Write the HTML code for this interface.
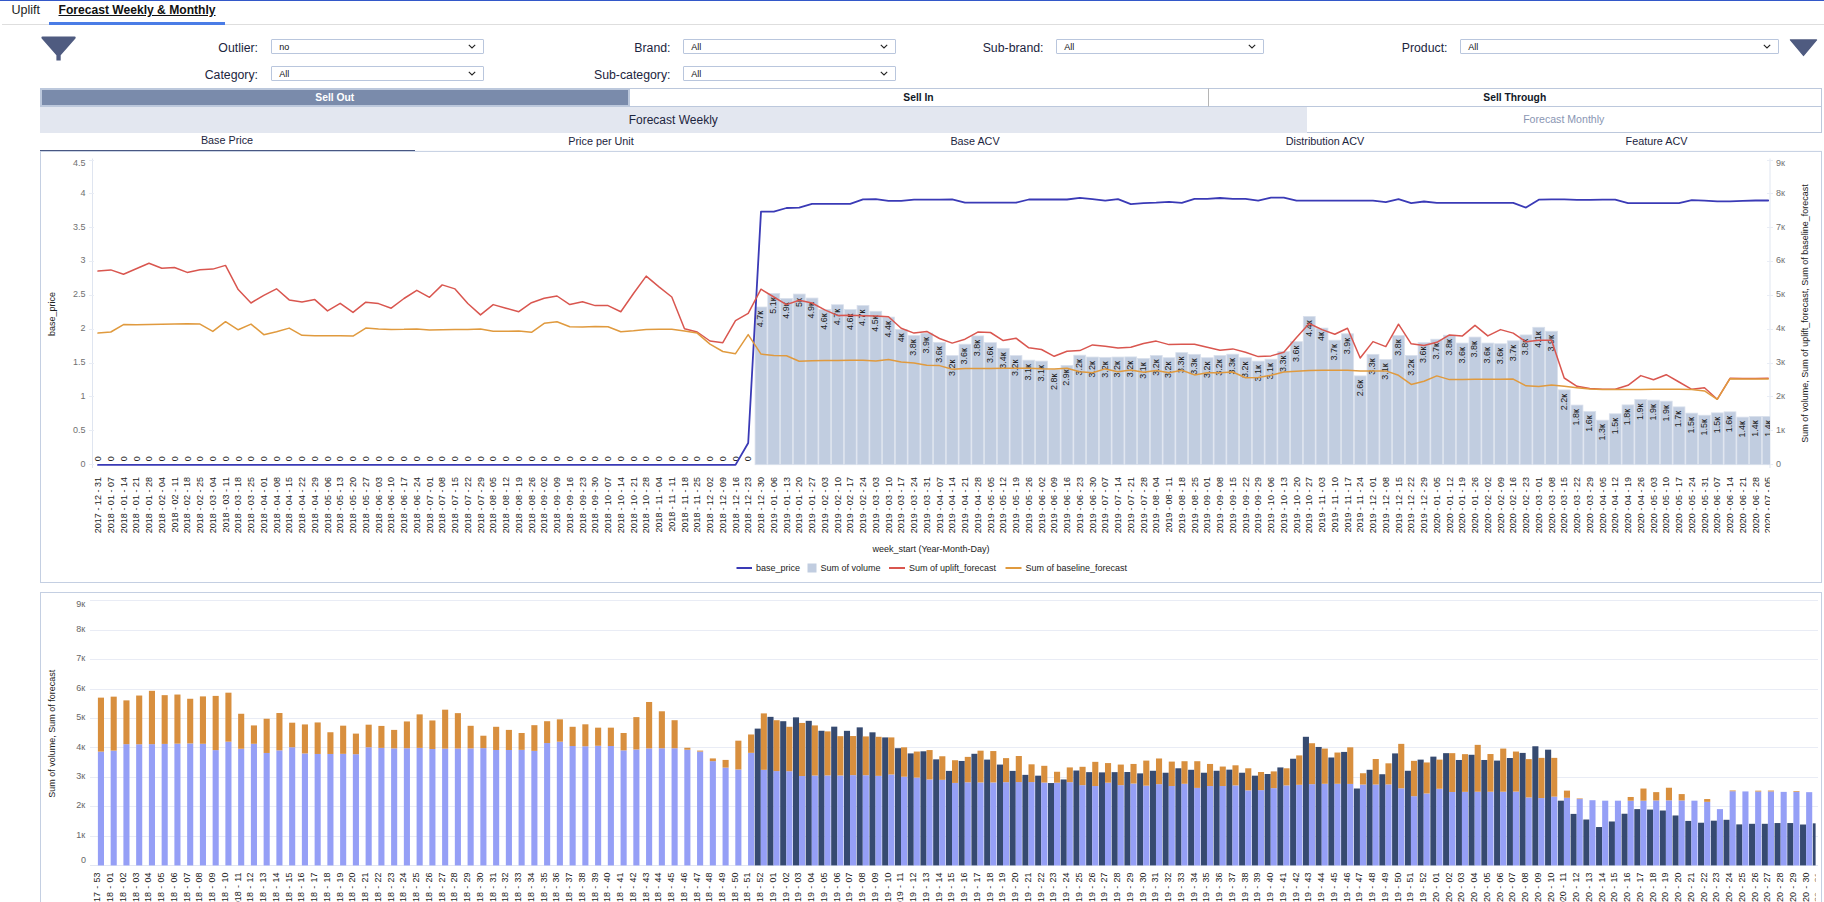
<!DOCTYPE html>
<html lang="en">
<head>
<meta charset="utf-8">
<title>Forecast Weekly &amp; Monthly</title>
<style>
html,body{margin:0;padding:0;background:#fff;}
body{width:1824px;height:902px;overflow:hidden;position:relative;font-family:"Liberation Sans",Arial,Helvetica,sans-serif;color:#1c2540;}
.abs{position:absolute;}
.topline{left:0;top:0;width:1824px;height:1px;background:#3358c9;}
.tabline{left:2px;top:24px;width:1822px;height:1px;background:#dedede;}
.tabsel{left:49px;top:22px;width:176px;height:3px;background:#4a7ce6;}
.tab{top:3px;height:15px;line-height:15px;white-space:nowrap;}
.tab1{left:11.5px;font-size:12.5px;color:#222;}
.tab2{left:58.5px;font-size:12.1px;font-weight:bold;text-decoration:underline;text-underline-offset:0.5px;color:#111;}
.flabel{font-size:12.3px;height:16px;line-height:16px;text-align:right;white-space:nowrap;width:200px;}
.sel{height:13.5px;border:1px solid #b9c6dd;border-radius:1px;background:#fff;box-sizing:content-box;}
.sel span{position:absolute;left:7.3px;top:0;font-size:9px;line-height:14px;color:#111;}
.sel svg{position:absolute;right:7px;top:4px;}
.seg{top:88px;height:19px;box-sizing:border-box;font-size:10.3px;font-weight:bold;text-align:center;line-height:18px;white-space:nowrap;}
.seg1{left:40px;width:589.5px;background:#7a8bab;border:2px solid #bcc8dc;color:#fff;line-height:15px;}
.seg2{left:629.5px;width:579px;border-top:1px solid #bcc8dc;border-bottom:1px solid #bcc8dc;border-right:1px solid #b5b5b5;color:#111827;}
.seg3{left:1208.5px;width:613.5px;border:1px solid #bcc8dc;border-left:none;color:#111827;}
.fw{left:40px;top:107px;width:1266.5px;height:26px;background:#e3e7f0;font-size:12px;text-align:center;line-height:26px;}
.fm{left:1306.5px;top:106px;width:515.5px;height:27px;box-sizing:border-box;border:1px solid #bcc8dc;border-left:none;font-size:10.6px;text-align:center;line-height:24.5px;color:#8a96b3;}
.sub{top:132px;height:17px;line-height:16px;font-size:10.8px;text-align:center;white-space:nowrap;}
.subline{left:40px;top:150px;width:1782px;height:1px;background:#c4cfe2;}
.subsel{left:40px;top:150px;width:374.5px;height:1.2px;background:#3a4a78;}
svg.charts{position:absolute;left:0;top:0;}
</style>
</head>
<body>
<div class="abs topline"></div>
<div class="abs tabline"></div>
<div class="abs tabsel"></div>
<div class="abs tab tab1">Uplift</div>
<div class="abs tab tab2">Forecast Weekly &amp; Monthly</div>

<svg class="abs" style="left:41px;top:36.1px" width="36" height="25" viewBox="0 0 36 25"><path d="M1.5 0.4H33.6Q34.7 0.4 34.7 1.5Q34.7 2.2 34.2 2.7L19.7 19.3V24.4H15.4V19.3L0.9 2.7Q0.4 2.2 0.4 1.5Q0.4 0.4 1.5 0.4Z" fill="#4f5b80"/></svg>
<svg class="abs" style="left:1789px;top:39px" width="29" height="18" viewBox="0 0 29 18"><path d="M1.5 0.9H27.5L14.5 16.4Z" fill="#4f5b80" stroke="#4f5b80" stroke-width="1.4" stroke-linejoin="round"/></svg>

<div class="abs flabel" style="left:58px;top:40px">Outlier:</div>
<div class="abs flabel" style="left:58px;top:67px">Category:</div>
<div class="abs flabel" style="left:470.5px;top:40px">Brand:</div>
<div class="abs flabel" style="left:470.5px;top:67px">Sub-category:</div>
<div class="abs flabel" style="left:843.5px;top:40px">Sub-brand:</div>
<div class="abs flabel" style="left:1247.5px;top:40px">Product:</div>

<div class="abs sel" style="left:271px;top:38.8px;width:210.5px"><span>no</span><svg width="8" height="5" viewBox="0 0 8 5"><path d="M0.8 0.8L4 4L7.2 0.8" fill="none" stroke="#222" stroke-width="1.1"/></svg></div>
<div class="abs sel" style="left:271px;top:65.8px;width:210.5px"><span>All</span><svg width="8" height="5" viewBox="0 0 8 5"><path d="M0.8 0.8L4 4L7.2 0.8" fill="none" stroke="#222" stroke-width="1.1"/></svg></div>
<div class="abs sel" style="left:683px;top:38.8px;width:210.5px"><span>All</span><svg width="8" height="5" viewBox="0 0 8 5"><path d="M0.8 0.8L4 4L7.2 0.8" fill="none" stroke="#222" stroke-width="1.1"/></svg></div>
<div class="abs sel" style="left:683px;top:65.8px;width:210.5px"><span>All</span><svg width="8" height="5" viewBox="0 0 8 5"><path d="M0.8 0.8L4 4L7.2 0.8" fill="none" stroke="#222" stroke-width="1.1"/></svg></div>
<div class="abs sel" style="left:1056px;top:38.8px;width:205.5px"><span>All</span><svg width="8" height="5" viewBox="0 0 8 5"><path d="M0.8 0.8L4 4L7.2 0.8" fill="none" stroke="#222" stroke-width="1.1"/></svg></div>
<div class="abs sel" style="left:1460px;top:38.8px;width:316.5px"><span>All</span><svg width="8" height="5" viewBox="0 0 8 5"><path d="M0.8 0.8L4 4L7.2 0.8" fill="none" stroke="#222" stroke-width="1.1"/></svg></div>

<div class="abs seg seg1">Sell Out</div>
<div class="abs seg seg2">Sell In</div>
<div class="abs seg seg3">Sell Through</div>
<div class="abs fw">Forecast Weekly</div>
<div class="abs fm">Forecast Monthly</div>

<div class="abs sub" style="left:40px;width:374px">Base Price</div>
<div class="abs sub" style="left:414px;width:374px;top:133px">Price per Unit</div>
<div class="abs sub" style="left:788px;width:374px;top:133px">Base ACV</div>
<div class="abs sub" style="left:1162px;width:326px;top:133px">Distribution ACV</div>
<div class="abs sub" style="left:1489.5px;width:334px;top:133.3px">Feature ACV</div>
<div class="abs subsel"></div>

<svg class="charts" width="1824" height="902" viewBox="0 0 1824 902" font-family="Liberation Sans, Arial, sans-serif">
<defs><clipPath id="c1"><rect x="92" y="150" width="1678.0" height="440"/></clipPath>
<clipPath id="c2"><rect x="90" y="595" width="1725.6" height="307"/></clipPath></defs>
<rect x="40.5" y="151.4" width="1781" height="431.1" fill="#fff" stroke="#c4cfe2" stroke-width="1"/>
<rect x="40.5" y="592.5" width="1781" height="320" fill="#fff" stroke="#c4cfe2" stroke-width="1"/>
<g stroke="#dfe5f0" stroke-width="1" fill="none">
<path d="M92.5 158.5V468"/>
<path d="M1770 158.5V468"/>
<path d="M89 464.5H94" stroke="#e9edf5"/>
<path d="M1767 464.5H1773" stroke="#e9edf5"/>
<path d="M89 430.5H94" stroke="#e9edf5"/>
<path d="M1767 430.5H1773" stroke="#e9edf5"/>
<path d="M89 396.5H94" stroke="#e9edf5"/>
<path d="M1767 396.5H1773" stroke="#e9edf5"/>
<path d="M89 363.5H94" stroke="#e9edf5"/>
<path d="M1767 363.5H1773" stroke="#e9edf5"/>
<path d="M89 329.5H94" stroke="#e9edf5"/>
<path d="M1767 329.5H1773" stroke="#e9edf5"/>
<path d="M89 295.5H94" stroke="#e9edf5"/>
<path d="M1767 295.5H1773" stroke="#e9edf5"/>
<path d="M89 261.5H94" stroke="#e9edf5"/>
<path d="M1767 261.5H1773" stroke="#e9edf5"/>
<path d="M89 227.5H94" stroke="#e9edf5"/>
<path d="M1767 227.5H1773" stroke="#e9edf5"/>
<path d="M89 193.5H94" stroke="#e9edf5"/>
<path d="M1767 193.5H1773" stroke="#e9edf5"/>
<path d="M89 160.5H94" stroke="#e9edf5"/>
<path d="M1767 160.5H1773" stroke="#e9edf5"/>
</g>
<g font-size="9" fill="#707070">
<text x="85.5" y="466.6" text-anchor="end">0</text>
<text x="1776" y="466.6">0</text>
<text x="85.5" y="432.5" text-anchor="end">0.5</text>
<text x="1776" y="432.5">1к</text>
<text x="85.5" y="398.7" text-anchor="end">1</text>
<text x="1776" y="398.7">2к</text>
<text x="85.5" y="364.8" text-anchor="end">1.5</text>
<text x="1776" y="364.8">3к</text>
<text x="85.5" y="331.0" text-anchor="end">2</text>
<text x="1776" y="331.0">4к</text>
<text x="85.5" y="297.2" text-anchor="end">2.5</text>
<text x="1776" y="297.2">5к</text>
<text x="85.5" y="263.4" text-anchor="end">3</text>
<text x="1776" y="263.4">6к</text>
<text x="85.5" y="229.6" text-anchor="end">3.5</text>
<text x="1776" y="229.6">7к</text>
<text x="85.5" y="195.7" text-anchor="end">4</text>
<text x="1776" y="195.7">8к</text>
<text x="85.5" y="166.0" text-anchor="end">4.5</text>
<text x="1776" y="166.0">9к</text>
</g>
<g font-size="9" fill="#222">
<text transform="translate(55,314) rotate(-90)" text-anchor="middle">base_price</text>
<text transform="translate(1807.8,313.5) rotate(-90)" text-anchor="middle">Sum of volume, Sum of uplift_forecast, Sum of baseline_forecast</text>
<text x="931" y="552" text-anchor="middle">week_start (Year-Month-Day)</text>
</g>
<g clip-path="url(#c1)">
<g fill="#c1cde0" stroke="#d9e0ec" stroke-width="0.8">
<rect x="755.08" y="307.00" width="11.85" height="157.70"/>
<rect x="767.83" y="293.48" width="11.85" height="171.22"/>
<rect x="780.58" y="298.48" width="11.85" height="166.22"/>
<rect x="793.33" y="294.06" width="11.85" height="170.64"/>
<rect x="806.08" y="298.06" width="11.85" height="166.64"/>
<rect x="818.83" y="309.47" width="11.85" height="155.23"/>
<rect x="831.58" y="304.76" width="11.85" height="159.94"/>
<rect x="844.33" y="309.55" width="11.85" height="155.15"/>
<rect x="857.08" y="305.56" width="11.85" height="159.14"/>
<rect x="869.83" y="311.26" width="11.85" height="153.44"/>
<rect x="882.58" y="317.11" width="11.85" height="147.59"/>
<rect x="895.33" y="329.52" width="11.85" height="135.18"/>
<rect x="908.08" y="335.51" width="11.85" height="129.19"/>
<rect x="920.83" y="333.09" width="11.85" height="131.61"/>
<rect x="933.58" y="342.36" width="11.85" height="122.34"/>
<rect x="946.33" y="355.62" width="11.85" height="109.08"/>
<rect x="959.08" y="344.21" width="11.85" height="120.49"/>
<rect x="971.83" y="335.94" width="11.85" height="128.76"/>
<rect x="984.58" y="342.64" width="11.85" height="122.06"/>
<rect x="997.33" y="348.35" width="11.85" height="116.35"/>
<rect x="1010.08" y="355.62" width="11.85" height="109.08"/>
<rect x="1022.83" y="360.19" width="11.85" height="104.51"/>
<rect x="1035.58" y="361.12" width="11.85" height="103.58"/>
<rect x="1048.33" y="369.60" width="11.85" height="95.10"/>
<rect x="1061.08" y="365.47" width="11.85" height="99.23"/>
<rect x="1073.83" y="355.20" width="11.85" height="109.50"/>
<rect x="1086.58" y="357.05" width="11.85" height="107.65"/>
<rect x="1099.33" y="357.34" width="11.85" height="107.36"/>
<rect x="1112.08" y="357.05" width="11.85" height="107.65"/>
<rect x="1124.83" y="356.91" width="11.85" height="107.79"/>
<rect x="1137.58" y="358.48" width="11.85" height="106.22"/>
<rect x="1150.33" y="355.48" width="11.85" height="109.22"/>
<rect x="1163.08" y="357.73" width="11.85" height="106.97"/>
<rect x="1175.83" y="352.63" width="11.85" height="112.07"/>
<rect x="1188.58" y="354.35" width="11.85" height="110.35"/>
<rect x="1201.33" y="357.73" width="11.85" height="106.97"/>
<rect x="1214.08" y="355.48" width="11.85" height="109.22"/>
<rect x="1226.83" y="354.20" width="11.85" height="110.50"/>
<rect x="1239.58" y="357.73" width="11.85" height="106.97"/>
<rect x="1252.33" y="361.12" width="11.85" height="103.58"/>
<rect x="1265.08" y="359.19" width="11.85" height="105.51"/>
<rect x="1277.83" y="351.63" width="11.85" height="113.07"/>
<rect x="1290.58" y="341.65" width="11.85" height="123.05"/>
<rect x="1303.33" y="316.40" width="11.85" height="148.30"/>
<rect x="1316.08" y="328.10" width="11.85" height="136.60"/>
<rect x="1328.83" y="340.22" width="11.85" height="124.48"/>
<rect x="1341.58" y="333.80" width="11.85" height="130.90"/>
<rect x="1354.33" y="375.88" width="11.85" height="88.82"/>
<rect x="1367.08" y="354.35" width="11.85" height="110.35"/>
<rect x="1379.83" y="359.48" width="11.85" height="105.22"/>
<rect x="1392.58" y="335.51" width="11.85" height="129.19"/>
<rect x="1405.33" y="355.48" width="11.85" height="109.22"/>
<rect x="1418.08" y="342.64" width="11.85" height="122.06"/>
<rect x="1430.83" y="339.22" width="11.85" height="125.48"/>
<rect x="1443.58" y="335.23" width="11.85" height="129.47"/>
<rect x="1456.33" y="343.07" width="11.85" height="121.63"/>
<rect x="1469.08" y="337.08" width="11.85" height="127.62"/>
<rect x="1481.83" y="343.07" width="11.85" height="121.63"/>
<rect x="1494.58" y="343.79" width="11.85" height="120.91"/>
<rect x="1507.33" y="340.82" width="11.85" height="123.88"/>
<rect x="1520.08" y="334.94" width="11.85" height="129.76"/>
<rect x="1532.83" y="327.30" width="11.85" height="137.40"/>
<rect x="1545.58" y="331.23" width="11.85" height="133.47"/>
<rect x="1558.33" y="389.88" width="11.85" height="74.82"/>
<rect x="1571.08" y="405.08" width="11.85" height="59.62"/>
<rect x="1583.83" y="411.54" width="11.85" height="53.16"/>
<rect x="1596.58" y="420.18" width="11.85" height="44.52"/>
<rect x="1609.33" y="413.80" width="11.85" height="50.90"/>
<rect x="1622.08" y="404.90" width="11.85" height="59.80"/>
<rect x="1634.83" y="399.58" width="11.85" height="65.12"/>
<rect x="1647.58" y="400.11" width="11.85" height="64.59"/>
<rect x="1660.33" y="401.17" width="11.85" height="63.53"/>
<rect x="1673.08" y="406.89" width="11.85" height="57.81"/>
<rect x="1685.83" y="413.14" width="11.85" height="51.56"/>
<rect x="1698.58" y="415.23" width="11.85" height="49.47"/>
<rect x="1711.33" y="412.87" width="11.85" height="51.83"/>
<rect x="1724.08" y="411.85" width="11.85" height="52.85"/>
<rect x="1736.83" y="417.12" width="11.85" height="47.58"/>
<rect x="1749.58" y="416.46" width="11.85" height="48.24"/>
<rect x="1762.33" y="416.46" width="11.85" height="48.24"/>
</g>
<g font-size="9" fill="#222">
<text transform="translate(101.2,461.2) rotate(-90)">0</text>
<text transform="translate(114.0,461.2) rotate(-90)">0</text>
<text transform="translate(126.7,461.2) rotate(-90)">0</text>
<text transform="translate(139.5,461.2) rotate(-90)">0</text>
<text transform="translate(152.2,461.2) rotate(-90)">0</text>
<text transform="translate(165.0,461.2) rotate(-90)">0</text>
<text transform="translate(177.7,461.2) rotate(-90)">0</text>
<text transform="translate(190.5,461.2) rotate(-90)">0</text>
<text transform="translate(203.2,461.2) rotate(-90)">0</text>
<text transform="translate(216.0,461.2) rotate(-90)">0</text>
<text transform="translate(228.7,461.2) rotate(-90)">0</text>
<text transform="translate(241.5,461.2) rotate(-90)">0</text>
<text transform="translate(254.2,461.2) rotate(-90)">0</text>
<text transform="translate(266.9,461.2) rotate(-90)">0</text>
<text transform="translate(279.7,461.2) rotate(-90)">0</text>
<text transform="translate(292.4,461.2) rotate(-90)">0</text>
<text transform="translate(305.2,461.2) rotate(-90)">0</text>
<text transform="translate(317.9,461.2) rotate(-90)">0</text>
<text transform="translate(330.7,461.2) rotate(-90)">0</text>
<text transform="translate(343.4,461.2) rotate(-90)">0</text>
<text transform="translate(356.2,461.2) rotate(-90)">0</text>
<text transform="translate(368.9,461.2) rotate(-90)">0</text>
<text transform="translate(381.7,461.2) rotate(-90)">0</text>
<text transform="translate(394.4,461.2) rotate(-90)">0</text>
<text transform="translate(407.2,461.2) rotate(-90)">0</text>
<text transform="translate(419.9,461.2) rotate(-90)">0</text>
<text transform="translate(432.7,461.2) rotate(-90)">0</text>
<text transform="translate(445.4,461.2) rotate(-90)">0</text>
<text transform="translate(458.2,461.2) rotate(-90)">0</text>
<text transform="translate(470.9,461.2) rotate(-90)">0</text>
<text transform="translate(483.7,461.2) rotate(-90)">0</text>
<text transform="translate(496.4,461.2) rotate(-90)">0</text>
<text transform="translate(509.2,461.2) rotate(-90)">0</text>
<text transform="translate(521.9,461.2) rotate(-90)">0</text>
<text transform="translate(534.7,461.2) rotate(-90)">0</text>
<text transform="translate(547.4,461.2) rotate(-90)">0</text>
<text transform="translate(560.2,461.2) rotate(-90)">0</text>
<text transform="translate(572.9,461.2) rotate(-90)">0</text>
<text transform="translate(585.7,461.2) rotate(-90)">0</text>
<text transform="translate(598.4,461.2) rotate(-90)">0</text>
<text transform="translate(611.2,461.2) rotate(-90)">0</text>
<text transform="translate(623.9,461.2) rotate(-90)">0</text>
<text transform="translate(636.7,461.2) rotate(-90)">0</text>
<text transform="translate(649.4,461.2) rotate(-90)">0</text>
<text transform="translate(662.2,461.2) rotate(-90)">0</text>
<text transform="translate(674.9,461.2) rotate(-90)">0</text>
<text transform="translate(687.7,461.2) rotate(-90)">0</text>
<text transform="translate(700.4,461.2) rotate(-90)">0</text>
<text transform="translate(713.2,461.2) rotate(-90)">0</text>
<text transform="translate(725.9,461.2) rotate(-90)">0</text>
<text transform="translate(738.7,461.2) rotate(-90)">0</text>
<text transform="translate(751.4,461.2) rotate(-90)">0</text>
<text transform="translate(763.3,310.9) rotate(-90)" text-anchor="end">4.7к</text>
<text transform="translate(776.0,297.4) rotate(-90)" text-anchor="end">5.1к</text>
<text transform="translate(788.8,302.4) rotate(-90)" text-anchor="end">4.9к</text>
<text transform="translate(801.5,298.0) rotate(-90)" text-anchor="end">5к</text>
<text transform="translate(814.3,302.0) rotate(-90)" text-anchor="end">4.9к</text>
<text transform="translate(827.0,313.4) rotate(-90)" text-anchor="end">4.6к</text>
<text transform="translate(839.8,308.7) rotate(-90)" text-anchor="end">4.7к</text>
<text transform="translate(852.5,313.5) rotate(-90)" text-anchor="end">4.6к</text>
<text transform="translate(865.3,309.5) rotate(-90)" text-anchor="end">4.7к</text>
<text transform="translate(878.0,315.2) rotate(-90)" text-anchor="end">4.5к</text>
<text transform="translate(890.8,321.0) rotate(-90)" text-anchor="end">4.4к</text>
<text transform="translate(903.5,333.4) rotate(-90)" text-anchor="end">4к</text>
<text transform="translate(916.3,339.4) rotate(-90)" text-anchor="end">3.8к</text>
<text transform="translate(929.0,337.0) rotate(-90)" text-anchor="end">3.9к</text>
<text transform="translate(941.8,346.3) rotate(-90)" text-anchor="end">3.6к</text>
<text transform="translate(954.5,359.5) rotate(-90)" text-anchor="end">3.2к</text>
<text transform="translate(967.3,348.1) rotate(-90)" text-anchor="end">3.6к</text>
<text transform="translate(980.0,339.8) rotate(-90)" text-anchor="end">3.8к</text>
<text transform="translate(992.8,346.5) rotate(-90)" text-anchor="end">3.6к</text>
<text transform="translate(1005.5,352.2) rotate(-90)" text-anchor="end">3.4к</text>
<text transform="translate(1018.3,359.5) rotate(-90)" text-anchor="end">3.2к</text>
<text transform="translate(1031.0,364.1) rotate(-90)" text-anchor="end">3.1к</text>
<text transform="translate(1043.8,365.0) rotate(-90)" text-anchor="end">3.1к</text>
<text transform="translate(1056.5,373.5) rotate(-90)" text-anchor="end">2.8к</text>
<text transform="translate(1069.3,369.4) rotate(-90)" text-anchor="end">2.9к</text>
<text transform="translate(1082.0,359.1) rotate(-90)" text-anchor="end">3.2к</text>
<text transform="translate(1094.8,361.0) rotate(-90)" text-anchor="end">3.2к</text>
<text transform="translate(1107.5,361.2) rotate(-90)" text-anchor="end">3.2к</text>
<text transform="translate(1120.3,361.0) rotate(-90)" text-anchor="end">3.2к</text>
<text transform="translate(1133.0,360.8) rotate(-90)" text-anchor="end">3.2к</text>
<text transform="translate(1145.8,362.4) rotate(-90)" text-anchor="end">3.1к</text>
<text transform="translate(1158.5,359.4) rotate(-90)" text-anchor="end">3.2к</text>
<text transform="translate(1171.3,361.6) rotate(-90)" text-anchor="end">3.2к</text>
<text transform="translate(1184.0,356.5) rotate(-90)" text-anchor="end">3.3к</text>
<text transform="translate(1196.8,358.3) rotate(-90)" text-anchor="end">3.3к</text>
<text transform="translate(1209.5,361.6) rotate(-90)" text-anchor="end">3.2к</text>
<text transform="translate(1222.3,359.4) rotate(-90)" text-anchor="end">3.2к</text>
<text transform="translate(1235.0,358.1) rotate(-90)" text-anchor="end">3.3к</text>
<text transform="translate(1247.8,361.6) rotate(-90)" text-anchor="end">3.2к</text>
<text transform="translate(1260.5,365.0) rotate(-90)" text-anchor="end">3.1к</text>
<text transform="translate(1273.3,363.1) rotate(-90)" text-anchor="end">3.1к</text>
<text transform="translate(1286.0,355.5) rotate(-90)" text-anchor="end">3.3к</text>
<text transform="translate(1298.8,345.5) rotate(-90)" text-anchor="end">3.6к</text>
<text transform="translate(1311.5,320.3) rotate(-90)" text-anchor="end">4.4к</text>
<text transform="translate(1324.3,332.0) rotate(-90)" text-anchor="end">4к</text>
<text transform="translate(1337.0,344.1) rotate(-90)" text-anchor="end">3.7к</text>
<text transform="translate(1349.8,337.7) rotate(-90)" text-anchor="end">3.9к</text>
<text transform="translate(1362.5,379.8) rotate(-90)" text-anchor="end">2.6к</text>
<text transform="translate(1375.3,358.3) rotate(-90)" text-anchor="end">3.3к</text>
<text transform="translate(1388.0,363.4) rotate(-90)" text-anchor="end">3.1к</text>
<text transform="translate(1400.8,339.4) rotate(-90)" text-anchor="end">3.8к</text>
<text transform="translate(1413.5,359.4) rotate(-90)" text-anchor="end">3.2к</text>
<text transform="translate(1426.3,346.5) rotate(-90)" text-anchor="end">3.6к</text>
<text transform="translate(1439.0,343.1) rotate(-90)" text-anchor="end">3.7к</text>
<text transform="translate(1451.8,339.1) rotate(-90)" text-anchor="end">3.8к</text>
<text transform="translate(1464.5,347.0) rotate(-90)" text-anchor="end">3.6к</text>
<text transform="translate(1477.3,341.0) rotate(-90)" text-anchor="end">3.8к</text>
<text transform="translate(1490.0,347.0) rotate(-90)" text-anchor="end">3.6к</text>
<text transform="translate(1502.8,347.7) rotate(-90)" text-anchor="end">3.6к</text>
<text transform="translate(1515.5,344.7) rotate(-90)" text-anchor="end">3.7к</text>
<text transform="translate(1528.3,338.8) rotate(-90)" text-anchor="end">3.8к</text>
<text transform="translate(1541.0,331.2) rotate(-90)" text-anchor="end">4.1к</text>
<text transform="translate(1553.8,335.1) rotate(-90)" text-anchor="end">3.9к</text>
<text transform="translate(1566.5,393.8) rotate(-90)" text-anchor="end">2.2к</text>
<text transform="translate(1579.3,409.0) rotate(-90)" text-anchor="end">1.8к</text>
<text transform="translate(1592.0,415.4) rotate(-90)" text-anchor="end">1.6к</text>
<text transform="translate(1604.8,424.1) rotate(-90)" text-anchor="end">1.3к</text>
<text transform="translate(1617.5,417.7) rotate(-90)" text-anchor="end">1.5к</text>
<text transform="translate(1630.3,408.8) rotate(-90)" text-anchor="end">1.8к</text>
<text transform="translate(1643.0,403.5) rotate(-90)" text-anchor="end">1.9к</text>
<text transform="translate(1655.8,404.0) rotate(-90)" text-anchor="end">1.9к</text>
<text transform="translate(1668.5,405.1) rotate(-90)" text-anchor="end">1.9к</text>
<text transform="translate(1681.3,410.8) rotate(-90)" text-anchor="end">1.7к</text>
<text transform="translate(1694.0,417.0) rotate(-90)" text-anchor="end">1.5к</text>
<text transform="translate(1706.8,419.1) rotate(-90)" text-anchor="end">1.5к</text>
<text transform="translate(1719.5,416.8) rotate(-90)" text-anchor="end">1.5к</text>
<text transform="translate(1732.3,415.7) rotate(-90)" text-anchor="end">1.6к</text>
<text transform="translate(1745.0,421.0) rotate(-90)" text-anchor="end">1.4к</text>
<text transform="translate(1757.8,420.4) rotate(-90)" text-anchor="end">1.4к</text>
<text transform="translate(1770.5,420.4) rotate(-90)" text-anchor="end">1.4к</text>
</g>
<g fill="none" stroke-width="1.5" stroke-linejoin="round" stroke-linecap="round">
<path d="M98.0 464.9L110.8 464.9L123.5 464.9L136.2 464.9L149.0 464.9L161.8 464.9L174.5 464.9L187.2 464.9L200.0 464.9L212.8 464.9L225.5 464.9L238.2 464.9L251.0 464.9L263.8 464.9L276.5 464.9L289.2 464.9L302.0 464.9L314.8 464.9L327.5 464.9L340.2 464.9L353.0 464.9L365.8 464.9L378.5 464.9L391.2 464.9L404.0 464.9L416.8 464.9L429.5 464.9L442.2 464.9L455.0 464.9L467.8 464.9L480.5 464.9L493.2 464.9L506.0 464.9L518.8 464.9L531.5 464.9L544.2 464.9L557.0 464.9L569.8 464.9L582.5 464.9L595.2 464.9L608.0 464.9L620.8 464.9L633.5 464.9L646.2 464.9L659.0 464.9L671.8 464.9L684.5 464.9L697.2 464.9L710.0 464.9L722.8 464.9L735.5 464.9L748.2 443.0L761.0 211.6L773.8 211.6L786.5 208.0L799.2 207.6L812.0 203.9L824.8 203.9L837.5 203.9L850.2 203.9L863.0 199.4L875.8 199.2L888.5 200.9L901.2 200.9L914.0 199.7L926.8 199.7L939.5 199.7L952.2 199.4L965.0 202.7L977.8 202.7L990.5 202.7L1003.2 202.7L1016.0 202.7L1028.8 199.5L1041.5 199.5L1054.2 199.5L1067.0 199.5L1079.8 197.8L1092.5 199.2L1105.2 200.7L1118.0 199.2L1130.8 204.1L1143.5 203.1L1156.2 202.7L1169.0 201.9L1181.8 202.9L1194.5 198.8L1207.2 198.8L1220.0 198.0L1232.8 198.8L1245.5 198.8L1258.2 200.7L1271.0 197.6L1283.8 197.6L1296.5 200.7L1309.2 200.7L1322.0 200.7L1334.8 200.7L1347.5 200.7L1360.2 200.7L1373.0 200.7L1385.8 202.1L1398.5 199.2L1411.2 203.1L1424.0 201.5L1436.8 202.9L1449.5 202.9L1462.2 202.9L1475.0 202.9L1487.8 202.9L1500.5 202.9L1513.2 202.9L1526.0 207.6L1538.8 199.7L1551.5 199.4L1564.2 199.4L1577.0 199.9L1589.8 199.9L1602.5 199.7L1615.2 199.7L1628.0 203.1L1640.8 203.1L1653.5 203.1L1666.2 203.1L1679.0 203.1L1691.8 200.1L1704.5 200.7L1717.2 201.3L1730.0 201.3L1742.8 200.9L1755.5 200.5L1768.2 200.5" stroke="#3a3ab6" stroke-width="1.8"/>
<path d="M98.0 271.1L110.8 269.9L123.5 274.2L136.2 268.7L149.0 263.2L161.8 268.2L174.5 267.5L187.2 272.4L200.0 269.7L212.8 269.1L225.5 265.4L238.2 289.6L251.0 303.0L263.8 295.3L276.5 288.8L289.2 299.9L302.0 301.9L314.8 299.6L327.5 310.9L340.2 303.3L353.0 312.4L365.8 302.2L378.5 303.6L391.2 308.2L404.0 298.5L416.8 290.3L429.5 297.3L442.2 284.9L455.0 288.9L467.8 303.5L480.5 314.9L493.2 304.6L506.0 308.2L518.8 311.7L531.5 302.7L544.2 298.2L557.0 296.0L569.8 304.6L582.5 301.8L595.2 305.6L608.0 305.6L620.8 311.7L633.5 293.5L646.2 276.1L659.0 286.8L671.8 297.0L684.5 328.7L697.2 332.0L710.0 341.0L722.8 342.7L735.5 320.6L748.2 313.4L761.0 289.2L773.8 297.0L786.5 304.6L799.2 300.2L812.0 303.0L824.8 309.9L837.5 315.4L850.2 315.2L863.0 315.7L875.8 316.1L888.5 316.8L901.2 328.2L914.0 333.1L926.8 331.4L939.5 338.5L952.2 343.1L965.0 339.2L977.8 332.1L990.5 332.5L1003.2 340.6L1016.0 338.2L1028.8 347.8L1041.5 349.5L1054.2 356.3L1067.0 351.3L1079.8 350.6L1092.5 344.9L1105.2 346.3L1118.0 348.0L1130.8 347.3L1143.5 343.5L1156.2 341.1L1169.0 344.6L1181.8 344.2L1194.5 344.2L1207.2 347.3L1220.0 350.3L1232.8 348.9L1245.5 352.3L1258.2 356.6L1271.0 355.9L1283.8 352.3L1296.5 337.5L1309.2 323.5L1322.0 329.6L1334.8 334.2L1347.5 328.2L1360.2 358.0L1373.0 341.6L1385.8 346.6L1398.5 324.2L1411.2 343.8L1424.0 345.6L1436.8 342.3L1449.5 334.9L1462.2 336.1L1475.0 325.4L1487.8 335.9L1500.5 329.6L1513.2 333.1L1526.0 341.8L1538.8 340.3L1551.5 340.3L1564.2 378.0L1577.0 386.3L1589.8 388.6L1602.5 389.3L1615.2 389.3L1628.0 385.3L1640.8 375.6L1653.5 379.7L1666.2 374.7L1679.0 382.0L1691.8 389.3L1704.5 387.7L1717.2 399.3L1730.0 378.3L1742.8 378.4L1755.5 378.4L1768.2 378.3" stroke="#d9564f"/>
<path d="M98.0 333.1L110.8 332.0L123.5 324.6L136.2 324.7L149.0 324.6L161.8 324.3L174.5 324.0L187.2 323.7L200.0 324.1L212.8 331.4L225.5 321.7L238.2 329.8L251.0 324.1L263.8 334.7L276.5 331.7L289.2 328.1L302.0 335.3L314.8 335.8L327.5 335.8L340.2 335.7L353.0 336.1L365.8 328.1L378.5 328.9L391.2 329.4L404.0 329.3L416.8 328.9L429.5 330.1L442.2 329.7L455.0 329.6L467.8 329.4L480.5 329.1L493.2 331.3L506.0 331.3L518.8 331.1L531.5 332.3L544.2 323.3L557.0 321.7L569.8 326.7L582.5 327.0L595.2 326.4L608.0 326.7L620.8 331.7L633.5 330.7L646.2 329.4L659.0 329.3L671.8 329.3L684.5 331.0L697.2 333.1L710.0 344.1L722.8 351.5L735.5 353.7L748.2 334.6L761.0 354.1L773.8 355.5L786.5 355.7L799.2 361.2L812.0 360.7L824.8 360.5L837.5 360.6L850.2 360.2L863.0 360.3L875.8 361.0L888.5 359.5L901.2 362.0L914.0 363.0L926.8 365.2L939.5 365.6L952.2 369.2L965.0 368.4L977.8 368.6L990.5 368.6L1003.2 368.3L1016.0 368.2L1028.8 368.2L1041.5 368.7L1054.2 368.9L1067.0 368.3L1079.8 371.7L1092.5 372.7L1105.2 368.9L1118.0 371.7L1130.8 369.9L1143.5 372.3L1156.2 370.6L1169.0 372.7L1181.8 370.2L1194.5 374.9L1207.2 372.7L1220.0 372.7L1232.8 372.0L1245.5 377.7L1258.2 377.4L1271.0 375.2L1283.8 372.0L1296.5 371.3L1309.2 370.6L1322.0 370.2L1334.8 370.2L1347.5 370.3L1360.2 371.0L1373.0 371.0L1385.8 370.9L1398.5 375.3L1411.2 384.4L1424.0 381.3L1436.8 375.9L1449.5 379.6L1462.2 379.4L1475.0 379.3L1487.8 379.3L1500.5 379.3L1513.2 379.1L1526.0 385.8L1538.8 386.6L1551.5 384.9L1564.2 386.3L1577.0 387.7L1589.8 389.0L1602.5 389.6L1615.2 389.6L1628.0 389.6L1640.8 389.6L1653.5 389.3L1666.2 389.2L1679.0 389.3L1691.8 389.6L1704.5 390.9L1717.2 399.3L1730.0 378.7L1742.8 378.9L1755.5 379.1L1768.2 378.9" stroke="#e09a3e"/>
</g>
<g font-size="9" fill="#222">
<text transform="translate(101.1,477.1) rotate(-90)" text-anchor="end">2017 - 12 - 31</text>
<text transform="translate(113.8,477.1) rotate(-90)" text-anchor="end">2018 - 01 - 07</text>
<text transform="translate(126.6,477.1) rotate(-90)" text-anchor="end">2018 - 01 - 14</text>
<text transform="translate(139.3,477.1) rotate(-90)" text-anchor="end">2018 - 01 - 21</text>
<text transform="translate(152.1,477.1) rotate(-90)" text-anchor="end">2018 - 01 - 28</text>
<text transform="translate(164.8,477.1) rotate(-90)" text-anchor="end">2018 - 02 - 04</text>
<text transform="translate(177.6,477.1) rotate(-90)" text-anchor="end">2018 - 02 - 11</text>
<text transform="translate(190.3,477.1) rotate(-90)" text-anchor="end">2018 - 02 - 18</text>
<text transform="translate(203.1,477.1) rotate(-90)" text-anchor="end">2018 - 02 - 25</text>
<text transform="translate(215.8,477.1) rotate(-90)" text-anchor="end">2018 - 03 - 04</text>
<text transform="translate(228.6,477.1) rotate(-90)" text-anchor="end">2018 - 03 - 11</text>
<text transform="translate(241.3,477.1) rotate(-90)" text-anchor="end">2018 - 03 - 18</text>
<text transform="translate(254.1,477.1) rotate(-90)" text-anchor="end">2018 - 03 - 25</text>
<text transform="translate(266.9,477.1) rotate(-90)" text-anchor="end">2018 - 04 - 01</text>
<text transform="translate(279.6,477.1) rotate(-90)" text-anchor="end">2018 - 04 - 08</text>
<text transform="translate(292.4,477.1) rotate(-90)" text-anchor="end">2018 - 04 - 15</text>
<text transform="translate(305.1,477.1) rotate(-90)" text-anchor="end">2018 - 04 - 22</text>
<text transform="translate(317.9,477.1) rotate(-90)" text-anchor="end">2018 - 04 - 29</text>
<text transform="translate(330.6,477.1) rotate(-90)" text-anchor="end">2018 - 05 - 06</text>
<text transform="translate(343.4,477.1) rotate(-90)" text-anchor="end">2018 - 05 - 13</text>
<text transform="translate(356.1,477.1) rotate(-90)" text-anchor="end">2018 - 05 - 20</text>
<text transform="translate(368.9,477.1) rotate(-90)" text-anchor="end">2018 - 05 - 27</text>
<text transform="translate(381.6,477.1) rotate(-90)" text-anchor="end">2018 - 06 - 03</text>
<text transform="translate(394.4,477.1) rotate(-90)" text-anchor="end">2018 - 06 - 10</text>
<text transform="translate(407.1,477.1) rotate(-90)" text-anchor="end">2018 - 06 - 17</text>
<text transform="translate(419.9,477.1) rotate(-90)" text-anchor="end">2018 - 06 - 24</text>
<text transform="translate(432.6,477.1) rotate(-90)" text-anchor="end">2018 - 07 - 01</text>
<text transform="translate(445.4,477.1) rotate(-90)" text-anchor="end">2018 - 07 - 08</text>
<text transform="translate(458.1,477.1) rotate(-90)" text-anchor="end">2018 - 07 - 15</text>
<text transform="translate(470.9,477.1) rotate(-90)" text-anchor="end">2018 - 07 - 22</text>
<text transform="translate(483.6,477.1) rotate(-90)" text-anchor="end">2018 - 07 - 29</text>
<text transform="translate(496.4,477.1) rotate(-90)" text-anchor="end">2018 - 08 - 05</text>
<text transform="translate(509.1,477.1) rotate(-90)" text-anchor="end">2018 - 08 - 12</text>
<text transform="translate(521.9,477.1) rotate(-90)" text-anchor="end">2018 - 08 - 19</text>
<text transform="translate(534.6,477.1) rotate(-90)" text-anchor="end">2018 - 08 - 26</text>
<text transform="translate(547.4,477.1) rotate(-90)" text-anchor="end">2018 - 09 - 02</text>
<text transform="translate(560.1,477.1) rotate(-90)" text-anchor="end">2018 - 09 - 09</text>
<text transform="translate(572.9,477.1) rotate(-90)" text-anchor="end">2018 - 09 - 16</text>
<text transform="translate(585.6,477.1) rotate(-90)" text-anchor="end">2018 - 09 - 23</text>
<text transform="translate(598.4,477.1) rotate(-90)" text-anchor="end">2018 - 09 - 30</text>
<text transform="translate(611.1,477.1) rotate(-90)" text-anchor="end">2018 - 10 - 07</text>
<text transform="translate(623.9,477.1) rotate(-90)" text-anchor="end">2018 - 10 - 14</text>
<text transform="translate(636.6,477.1) rotate(-90)" text-anchor="end">2018 - 10 - 21</text>
<text transform="translate(649.4,477.1) rotate(-90)" text-anchor="end">2018 - 10 - 28</text>
<text transform="translate(662.1,477.1) rotate(-90)" text-anchor="end">2018 - 11 - 04</text>
<text transform="translate(674.9,477.1) rotate(-90)" text-anchor="end">2018 - 11 - 11</text>
<text transform="translate(687.6,477.1) rotate(-90)" text-anchor="end">2018 - 11 - 18</text>
<text transform="translate(700.4,477.1) rotate(-90)" text-anchor="end">2018 - 11 - 25</text>
<text transform="translate(713.1,477.1) rotate(-90)" text-anchor="end">2018 - 12 - 02</text>
<text transform="translate(725.9,477.1) rotate(-90)" text-anchor="end">2018 - 12 - 09</text>
<text transform="translate(738.6,477.1) rotate(-90)" text-anchor="end">2018 - 12 - 16</text>
<text transform="translate(751.4,477.1) rotate(-90)" text-anchor="end">2018 - 12 - 23</text>
<text transform="translate(764.1,477.1) rotate(-90)" text-anchor="end">2018 - 12 - 30</text>
<text transform="translate(776.9,477.1) rotate(-90)" text-anchor="end">2019 - 01 - 06</text>
<text transform="translate(789.6,477.1) rotate(-90)" text-anchor="end">2019 - 01 - 13</text>
<text transform="translate(802.4,477.1) rotate(-90)" text-anchor="end">2019 - 01 - 20</text>
<text transform="translate(815.1,477.1) rotate(-90)" text-anchor="end">2019 - 01 - 27</text>
<text transform="translate(827.9,477.1) rotate(-90)" text-anchor="end">2019 - 02 - 03</text>
<text transform="translate(840.6,477.1) rotate(-90)" text-anchor="end">2019 - 02 - 10</text>
<text transform="translate(853.4,477.1) rotate(-90)" text-anchor="end">2019 - 02 - 17</text>
<text transform="translate(866.1,477.1) rotate(-90)" text-anchor="end">2019 - 02 - 24</text>
<text transform="translate(878.9,477.1) rotate(-90)" text-anchor="end">2019 - 03 - 03</text>
<text transform="translate(891.6,477.1) rotate(-90)" text-anchor="end">2019 - 03 - 10</text>
<text transform="translate(904.4,477.1) rotate(-90)" text-anchor="end">2019 - 03 - 17</text>
<text transform="translate(917.1,477.1) rotate(-90)" text-anchor="end">2019 - 03 - 24</text>
<text transform="translate(929.9,477.1) rotate(-90)" text-anchor="end">2019 - 03 - 31</text>
<text transform="translate(942.6,477.1) rotate(-90)" text-anchor="end">2019 - 04 - 07</text>
<text transform="translate(955.4,477.1) rotate(-90)" text-anchor="end">2019 - 04 - 14</text>
<text transform="translate(968.1,477.1) rotate(-90)" text-anchor="end">2019 - 04 - 21</text>
<text transform="translate(980.9,477.1) rotate(-90)" text-anchor="end">2019 - 04 - 28</text>
<text transform="translate(993.6,477.1) rotate(-90)" text-anchor="end">2019 - 05 - 05</text>
<text transform="translate(1006.4,477.1) rotate(-90)" text-anchor="end">2019 - 05 - 12</text>
<text transform="translate(1019.1,477.1) rotate(-90)" text-anchor="end">2019 - 05 - 19</text>
<text transform="translate(1031.8,477.1) rotate(-90)" text-anchor="end">2019 - 05 - 26</text>
<text transform="translate(1044.6,477.1) rotate(-90)" text-anchor="end">2019 - 06 - 02</text>
<text transform="translate(1057.3,477.1) rotate(-90)" text-anchor="end">2019 - 06 - 09</text>
<text transform="translate(1070.1,477.1) rotate(-90)" text-anchor="end">2019 - 06 - 16</text>
<text transform="translate(1082.8,477.1) rotate(-90)" text-anchor="end">2019 - 06 - 23</text>
<text transform="translate(1095.6,477.1) rotate(-90)" text-anchor="end">2019 - 06 - 30</text>
<text transform="translate(1108.3,477.1) rotate(-90)" text-anchor="end">2019 - 07 - 07</text>
<text transform="translate(1121.1,477.1) rotate(-90)" text-anchor="end">2019 - 07 - 14</text>
<text transform="translate(1133.8,477.1) rotate(-90)" text-anchor="end">2019 - 07 - 21</text>
<text transform="translate(1146.6,477.1) rotate(-90)" text-anchor="end">2019 - 07 - 28</text>
<text transform="translate(1159.3,477.1) rotate(-90)" text-anchor="end">2019 - 08 - 04</text>
<text transform="translate(1172.1,477.1) rotate(-90)" text-anchor="end">2019 - 08 - 11</text>
<text transform="translate(1184.8,477.1) rotate(-90)" text-anchor="end">2019 - 08 - 18</text>
<text transform="translate(1197.6,477.1) rotate(-90)" text-anchor="end">2019 - 08 - 25</text>
<text transform="translate(1210.3,477.1) rotate(-90)" text-anchor="end">2019 - 09 - 01</text>
<text transform="translate(1223.1,477.1) rotate(-90)" text-anchor="end">2019 - 09 - 08</text>
<text transform="translate(1235.8,477.1) rotate(-90)" text-anchor="end">2019 - 09 - 15</text>
<text transform="translate(1248.6,477.1) rotate(-90)" text-anchor="end">2019 - 09 - 22</text>
<text transform="translate(1261.3,477.1) rotate(-90)" text-anchor="end">2019 - 09 - 29</text>
<text transform="translate(1274.1,477.1) rotate(-90)" text-anchor="end">2019 - 10 - 06</text>
<text transform="translate(1286.8,477.1) rotate(-90)" text-anchor="end">2019 - 10 - 13</text>
<text transform="translate(1299.6,477.1) rotate(-90)" text-anchor="end">2019 - 10 - 20</text>
<text transform="translate(1312.3,477.1) rotate(-90)" text-anchor="end">2019 - 10 - 27</text>
<text transform="translate(1325.1,477.1) rotate(-90)" text-anchor="end">2019 - 11 - 03</text>
<text transform="translate(1337.8,477.1) rotate(-90)" text-anchor="end">2019 - 11 - 10</text>
<text transform="translate(1350.6,477.1) rotate(-90)" text-anchor="end">2019 - 11 - 17</text>
<text transform="translate(1363.3,477.1) rotate(-90)" text-anchor="end">2019 - 11 - 24</text>
<text transform="translate(1376.1,477.1) rotate(-90)" text-anchor="end">2019 - 12 - 01</text>
<text transform="translate(1388.8,477.1) rotate(-90)" text-anchor="end">2019 - 12 - 08</text>
<text transform="translate(1401.6,477.1) rotate(-90)" text-anchor="end">2019 - 12 - 15</text>
<text transform="translate(1414.3,477.1) rotate(-90)" text-anchor="end">2019 - 12 - 22</text>
<text transform="translate(1427.1,477.1) rotate(-90)" text-anchor="end">2019 - 12 - 29</text>
<text transform="translate(1439.8,477.1) rotate(-90)" text-anchor="end">2020 - 01 - 05</text>
<text transform="translate(1452.6,477.1) rotate(-90)" text-anchor="end">2020 - 01 - 12</text>
<text transform="translate(1465.3,477.1) rotate(-90)" text-anchor="end">2020 - 01 - 19</text>
<text transform="translate(1478.1,477.1) rotate(-90)" text-anchor="end">2020 - 01 - 26</text>
<text transform="translate(1490.8,477.1) rotate(-90)" text-anchor="end">2020 - 02 - 02</text>
<text transform="translate(1503.6,477.1) rotate(-90)" text-anchor="end">2020 - 02 - 09</text>
<text transform="translate(1516.3,477.1) rotate(-90)" text-anchor="end">2020 - 02 - 16</text>
<text transform="translate(1529.1,477.1) rotate(-90)" text-anchor="end">2020 - 02 - 23</text>
<text transform="translate(1541.8,477.1) rotate(-90)" text-anchor="end">2020 - 03 - 01</text>
<text transform="translate(1554.6,477.1) rotate(-90)" text-anchor="end">2020 - 03 - 08</text>
<text transform="translate(1567.3,477.1) rotate(-90)" text-anchor="end">2020 - 03 - 15</text>
<text transform="translate(1580.1,477.1) rotate(-90)" text-anchor="end">2020 - 03 - 22</text>
<text transform="translate(1592.8,477.1) rotate(-90)" text-anchor="end">2020 - 03 - 29</text>
<text transform="translate(1605.6,477.1) rotate(-90)" text-anchor="end">2020 - 04 - 05</text>
<text transform="translate(1618.3,477.1) rotate(-90)" text-anchor="end">2020 - 04 - 12</text>
<text transform="translate(1631.1,477.1) rotate(-90)" text-anchor="end">2020 - 04 - 19</text>
<text transform="translate(1643.8,477.1) rotate(-90)" text-anchor="end">2020 - 04 - 26</text>
<text transform="translate(1656.6,477.1) rotate(-90)" text-anchor="end">2020 - 05 - 03</text>
<text transform="translate(1669.3,477.1) rotate(-90)" text-anchor="end">2020 - 05 - 10</text>
<text transform="translate(1682.1,477.1) rotate(-90)" text-anchor="end">2020 - 05 - 17</text>
<text transform="translate(1694.8,477.1) rotate(-90)" text-anchor="end">2020 - 05 - 24</text>
<text transform="translate(1707.6,477.1) rotate(-90)" text-anchor="end">2020 - 05 - 31</text>
<text transform="translate(1720.3,477.1) rotate(-90)" text-anchor="end">2020 - 06 - 07</text>
<text transform="translate(1733.1,477.1) rotate(-90)" text-anchor="end">2020 - 06 - 14</text>
<text transform="translate(1745.8,477.1) rotate(-90)" text-anchor="end">2020 - 06 - 21</text>
<text transform="translate(1758.6,477.1) rotate(-90)" text-anchor="end">2020 - 06 - 28</text>
<text transform="translate(1771.3,477.1) rotate(-90)" text-anchor="end">2020 - 07 - 05</text>
</g>
</g>
<g font-size="9" fill="#222">
<path d="M736.5 568H752" stroke="#3a3ab6" stroke-width="2"/><text x="756" y="571">base_price</text>
<rect x="807.5" y="563.5" width="9" height="9" fill="#c1cde0"/><text x="820.5" y="571">Sum of volume</text>
<path d="M889 568H905" stroke="#d9564f" stroke-width="2"/><text x="909" y="571">Sum of uplift_forecast</text>
<path d="M1005.5 568H1021.5" stroke="#e09a3e" stroke-width="2"/><text x="1025.5" y="571">Sum of baseline_forecast</text>
</g>
<g stroke="#e9ecf5" stroke-width="1">
<path d="M90 865.5H1818" stroke="#e2e6f2"/>
<path d="M90 836.5H1818" />
<path d="M90 806.5H1818" />
<path d="M90 777.5H1818" />
<path d="M90 747.5H1818" />
<path d="M90 718.5H1818" />
<path d="M90 689.5H1818" />
<path d="M90 659.5H1818" />
<path d="M90 630.5H1818" />
<path d="M90 600.5H1818" />
</g>
<g font-size="9" fill="#666">
<text x="86.0" y="862.6" text-anchor="end">0</text>
<text x="85.3" y="837.8" text-anchor="end">1к</text>
<text x="85.3" y="808.4" text-anchor="end">2к</text>
<text x="85.3" y="779.0" text-anchor="end">3к</text>
<text x="85.3" y="749.6" text-anchor="end">4к</text>
<text x="85.3" y="720.1" text-anchor="end">5к</text>
<text x="85.3" y="690.7" text-anchor="end">6к</text>
<text x="85.3" y="661.3" text-anchor="end">7к</text>
<text x="85.3" y="631.9" text-anchor="end">8к</text>
<text x="85.3" y="606.5" text-anchor="end">9к</text>
</g>
<text transform="translate(55,733.7) rotate(-90)" text-anchor="middle" font-size="9" fill="#222">Sum of volume, Sum of forecast</text>
<g clip-path="url(#c2)">
<g fill="#364a70"><rect x="754.70" y="728.61" width="6.1" height="136.79"/><rect x="767.44" y="716.85" width="6.1" height="148.55"/><rect x="780.19" y="721.21" width="6.1" height="144.19"/><rect x="792.94" y="717.36" width="6.1" height="148.04"/><rect x="805.69" y="720.83" width="6.1" height="144.57"/><rect x="818.44" y="730.76" width="6.1" height="134.64"/><rect x="831.18" y="726.66" width="6.1" height="138.74"/><rect x="843.93" y="730.83" width="6.1" height="134.57"/><rect x="856.68" y="727.36" width="6.1" height="138.04"/><rect x="869.43" y="732.32" width="6.1" height="133.08"/><rect x="882.18" y="737.41" width="6.1" height="127.99"/><rect x="894.92" y="748.20" width="6.1" height="117.20"/><rect x="907.67" y="753.41" width="6.1" height="111.99"/><rect x="920.42" y="751.30" width="6.1" height="114.10"/><rect x="933.17" y="759.36" width="6.1" height="106.04"/><rect x="945.92" y="770.90" width="6.1" height="94.50"/><rect x="958.66" y="760.97" width="6.1" height="104.43"/><rect x="971.41" y="753.78" width="6.1" height="111.62"/><rect x="984.16" y="759.61" width="6.1" height="105.79"/><rect x="996.91" y="764.57" width="6.1" height="100.83"/><rect x="1009.66" y="770.90" width="6.1" height="94.50"/><rect x="1022.40" y="774.86" width="6.1" height="90.54"/><rect x="1035.15" y="775.67" width="6.1" height="89.73"/><rect x="1047.90" y="783.05" width="6.1" height="82.35"/><rect x="1060.65" y="779.45" width="6.1" height="85.95"/><rect x="1073.40" y="770.52" width="6.1" height="94.88"/><rect x="1086.14" y="772.14" width="6.1" height="93.26"/><rect x="1098.89" y="772.38" width="6.1" height="93.02"/><rect x="1111.64" y="772.14" width="6.1" height="93.26"/><rect x="1124.39" y="772.01" width="6.1" height="93.39"/><rect x="1137.14" y="773.38" width="6.1" height="92.02"/><rect x="1149.88" y="770.77" width="6.1" height="94.63"/><rect x="1162.63" y="772.73" width="6.1" height="92.67"/><rect x="1175.38" y="768.29" width="6.1" height="97.11"/><rect x="1188.13" y="769.79" width="6.1" height="95.61"/><rect x="1200.88" y="772.73" width="6.1" height="92.67"/><rect x="1213.62" y="770.77" width="6.1" height="94.63"/><rect x="1226.37" y="769.65" width="6.1" height="95.75"/><rect x="1239.12" y="772.73" width="6.1" height="92.67"/><rect x="1251.87" y="775.67" width="6.1" height="89.73"/><rect x="1264.62" y="774.00" width="6.1" height="91.40"/><rect x="1277.36" y="767.42" width="6.1" height="97.98"/><rect x="1290.11" y="758.74" width="6.1" height="106.66"/><rect x="1302.86" y="736.79" width="6.1" height="128.61"/><rect x="1315.61" y="746.96" width="6.1" height="118.44"/><rect x="1328.36" y="757.50" width="6.1" height="107.90"/><rect x="1341.10" y="751.92" width="6.1" height="113.48"/><rect x="1353.85" y="788.51" width="6.1" height="76.89"/><rect x="1366.60" y="769.79" width="6.1" height="95.61"/><rect x="1379.35" y="774.24" width="6.1" height="91.16"/><rect x="1392.10" y="753.41" width="6.1" height="111.99"/><rect x="1404.84" y="770.77" width="6.1" height="94.63"/><rect x="1417.59" y="759.61" width="6.1" height="105.79"/><rect x="1430.34" y="756.63" width="6.1" height="108.77"/><rect x="1443.09" y="753.16" width="6.1" height="112.24"/><rect x="1455.84" y="759.98" width="6.1" height="105.42"/><rect x="1468.58" y="754.77" width="6.1" height="110.63"/><rect x="1481.33" y="759.98" width="6.1" height="105.42"/><rect x="1494.08" y="760.60" width="6.1" height="104.80"/><rect x="1506.83" y="758.02" width="6.1" height="107.38"/><rect x="1519.58" y="752.91" width="6.1" height="112.49"/><rect x="1532.32" y="746.26" width="6.1" height="119.14"/><rect x="1545.07" y="749.68" width="6.1" height="115.72"/><rect x="1557.82" y="800.68" width="6.1" height="64.72"/><rect x="1570.57" y="813.90" width="6.1" height="51.50"/><rect x="1583.32" y="819.52" width="6.1" height="45.88"/><rect x="1596.06" y="827.03" width="6.1" height="38.37"/><rect x="1608.81" y="821.49" width="6.1" height="43.91"/><rect x="1621.56" y="813.74" width="6.1" height="51.66"/><rect x="1634.31" y="809.12" width="6.1" height="56.28"/><rect x="1647.06" y="809.58" width="6.1" height="55.82"/><rect x="1659.80" y="810.51" width="6.1" height="54.89"/><rect x="1672.55" y="815.48" width="6.1" height="49.92"/><rect x="1685.30" y="820.91" width="6.1" height="44.49"/><rect x="1698.05" y="822.73" width="6.1" height="42.67"/><rect x="1710.80" y="820.68" width="6.1" height="44.72"/><rect x="1723.54" y="819.79" width="6.1" height="45.61"/><rect x="1736.29" y="824.38" width="6.1" height="41.02"/><rect x="1749.04" y="823.80" width="6.1" height="41.60"/><rect x="1761.79" y="823.80" width="6.1" height="41.60"/><rect x="1774.54" y="823.05" width="6.1" height="42.35"/><rect x="1787.28" y="823.05" width="6.1" height="42.35"/><rect x="1800.03" y="824.52" width="6.1" height="40.88"/><rect x="1812.78" y="823.34" width="6.1" height="42.06"/></g>
<g fill="#959ff6"><rect x="97.90" y="751.60" width="6.1" height="113.80"/><rect x="110.65" y="750.60" width="6.1" height="114.80"/><rect x="123.40" y="744.15" width="6.1" height="121.25"/><rect x="136.14" y="744.28" width="6.1" height="121.12"/><rect x="148.89" y="744.15" width="6.1" height="121.25"/><rect x="161.64" y="743.90" width="6.1" height="121.50"/><rect x="174.39" y="743.66" width="6.1" height="121.74"/><rect x="187.14" y="743.41" width="6.1" height="121.99"/><rect x="199.88" y="743.78" width="6.1" height="121.62"/><rect x="212.63" y="750.11" width="6.1" height="115.29"/><rect x="225.38" y="741.67" width="6.1" height="123.73"/><rect x="238.13" y="748.74" width="6.1" height="116.66"/><rect x="250.88" y="743.78" width="6.1" height="121.62"/><rect x="263.62" y="752.96" width="6.1" height="112.44"/><rect x="276.37" y="750.35" width="6.1" height="115.05"/><rect x="289.12" y="747.25" width="6.1" height="118.15"/><rect x="301.87" y="753.46" width="6.1" height="111.94"/><rect x="314.62" y="753.95" width="6.1" height="111.45"/><rect x="327.36" y="753.95" width="6.1" height="111.45"/><rect x="340.11" y="753.83" width="6.1" height="111.57"/><rect x="352.86" y="754.20" width="6.1" height="111.20"/><rect x="365.61" y="747.25" width="6.1" height="118.15"/><rect x="378.36" y="747.87" width="6.1" height="117.53"/><rect x="391.10" y="748.37" width="6.1" height="117.03"/><rect x="403.85" y="748.25" width="6.1" height="117.15"/><rect x="416.60" y="747.87" width="6.1" height="117.53"/><rect x="429.35" y="748.99" width="6.1" height="116.41"/><rect x="442.10" y="748.62" width="6.1" height="116.78"/><rect x="454.84" y="748.49" width="6.1" height="116.91"/><rect x="467.59" y="748.37" width="6.1" height="117.03"/><rect x="480.34" y="748.12" width="6.1" height="117.28"/><rect x="493.09" y="749.98" width="6.1" height="115.42"/><rect x="505.84" y="749.98" width="6.1" height="115.42"/><rect x="518.58" y="749.86" width="6.1" height="115.54"/><rect x="531.33" y="750.85" width="6.1" height="114.55"/><rect x="544.08" y="743.04" width="6.1" height="122.36"/><rect x="556.83" y="741.67" width="6.1" height="123.73"/><rect x="569.58" y="746.01" width="6.1" height="119.39"/><rect x="582.32" y="746.26" width="6.1" height="119.14"/><rect x="595.07" y="745.77" width="6.1" height="119.63"/><rect x="607.82" y="746.01" width="6.1" height="119.39"/><rect x="620.57" y="750.35" width="6.1" height="115.05"/><rect x="633.32" y="749.49" width="6.1" height="115.91"/><rect x="646.06" y="748.37" width="6.1" height="117.03"/><rect x="658.81" y="748.25" width="6.1" height="117.15"/><rect x="671.56" y="748.25" width="6.1" height="117.15"/><rect x="684.31" y="749.73" width="6.1" height="115.67"/><rect x="697.06" y="751.60" width="6.1" height="113.80"/><rect x="709.80" y="761.15" width="6.1" height="104.25"/><rect x="722.55" y="767.60" width="6.1" height="97.80"/><rect x="735.30" y="769.46" width="6.1" height="95.94"/><rect x="748.05" y="752.84" width="6.1" height="112.56"/><rect x="760.80" y="769.83" width="6.1" height="95.57"/><rect x="773.54" y="771.07" width="6.1" height="94.33"/><rect x="786.29" y="771.19" width="6.1" height="94.21"/><rect x="799.04" y="776.03" width="6.1" height="89.37"/><rect x="811.79" y="775.53" width="6.1" height="89.87"/><rect x="824.54" y="775.41" width="6.1" height="89.99"/><rect x="837.28" y="775.48" width="6.1" height="89.92"/><rect x="850.03" y="775.11" width="6.1" height="90.29"/><rect x="862.78" y="775.24" width="6.1" height="90.16"/><rect x="875.53" y="775.86" width="6.1" height="89.54"/><rect x="888.28" y="774.49" width="6.1" height="90.91"/><rect x="901.02" y="776.73" width="6.1" height="88.67"/><rect x="913.77" y="777.59" width="6.1" height="87.81"/><rect x="926.52" y="779.45" width="6.1" height="85.95"/><rect x="939.27" y="779.83" width="6.1" height="85.57"/><rect x="952.02" y="782.93" width="6.1" height="82.47"/><rect x="964.76" y="782.31" width="6.1" height="83.09"/><rect x="977.51" y="782.43" width="6.1" height="82.97"/><rect x="990.26" y="782.43" width="6.1" height="82.97"/><rect x="1003.01" y="782.18" width="6.1" height="83.22"/><rect x="1015.76" y="782.06" width="6.1" height="83.34"/><rect x="1028.50" y="782.06" width="6.1" height="83.34"/><rect x="1041.25" y="782.55" width="6.1" height="82.85"/><rect x="1054.00" y="782.68" width="6.1" height="82.72"/><rect x="1066.75" y="782.18" width="6.1" height="83.22"/><rect x="1079.50" y="785.16" width="6.1" height="80.24"/><rect x="1092.24" y="786.03" width="6.1" height="79.37"/><rect x="1104.99" y="782.68" width="6.1" height="82.72"/><rect x="1117.74" y="785.16" width="6.1" height="80.24"/><rect x="1130.49" y="783.55" width="6.1" height="81.85"/><rect x="1143.24" y="785.66" width="6.1" height="79.74"/><rect x="1155.98" y="784.17" width="6.1" height="81.23"/><rect x="1168.73" y="786.03" width="6.1" height="79.37"/><rect x="1181.48" y="783.80" width="6.1" height="81.60"/><rect x="1194.23" y="787.89" width="6.1" height="77.51"/><rect x="1206.98" y="786.03" width="6.1" height="79.37"/><rect x="1219.72" y="786.03" width="6.1" height="79.37"/><rect x="1232.47" y="785.41" width="6.1" height="79.99"/><rect x="1245.22" y="790.37" width="6.1" height="75.03"/><rect x="1257.97" y="790.12" width="6.1" height="75.28"/><rect x="1270.72" y="788.14" width="6.1" height="77.26"/><rect x="1283.46" y="785.41" width="6.1" height="79.99"/><rect x="1296.21" y="784.79" width="6.1" height="80.61"/><rect x="1308.96" y="784.17" width="6.1" height="81.23"/><rect x="1321.71" y="783.80" width="6.1" height="81.60"/><rect x="1334.46" y="783.80" width="6.1" height="81.60"/><rect x="1347.20" y="783.92" width="6.1" height="81.48"/><rect x="1359.95" y="784.54" width="6.1" height="80.86"/><rect x="1372.70" y="784.54" width="6.1" height="80.86"/><rect x="1385.45" y="784.42" width="6.1" height="80.98"/><rect x="1398.20" y="788.26" width="6.1" height="77.14"/><rect x="1410.94" y="796.20" width="6.1" height="69.20"/><rect x="1423.69" y="793.47" width="6.1" height="71.93"/><rect x="1436.44" y="788.76" width="6.1" height="76.64"/><rect x="1449.19" y="791.98" width="6.1" height="73.42"/><rect x="1461.94" y="791.86" width="6.1" height="73.54"/><rect x="1474.68" y="791.73" width="6.1" height="73.67"/><rect x="1487.43" y="791.73" width="6.1" height="73.67"/><rect x="1500.18" y="791.73" width="6.1" height="73.67"/><rect x="1512.93" y="791.61" width="6.1" height="73.79"/><rect x="1525.68" y="797.44" width="6.1" height="67.96"/><rect x="1538.42" y="798.06" width="6.1" height="67.34"/><rect x="1551.17" y="796.64" width="6.1" height="68.76"/><rect x="1563.92" y="797.79" width="6.1" height="67.61"/><rect x="1576.67" y="799.06" width="6.1" height="66.34"/><rect x="1589.42" y="800.22" width="6.1" height="65.18"/><rect x="1602.16" y="800.68" width="6.1" height="64.72"/><rect x="1614.91" y="800.68" width="6.1" height="64.72"/><rect x="1627.66" y="800.68" width="6.1" height="64.72"/><rect x="1640.41" y="800.68" width="6.1" height="64.72"/><rect x="1653.16" y="800.45" width="6.1" height="64.95"/><rect x="1665.90" y="800.33" width="6.1" height="65.07"/><rect x="1678.65" y="800.45" width="6.1" height="64.95"/><rect x="1691.40" y="800.68" width="6.1" height="64.72"/><rect x="1704.15" y="801.84" width="6.1" height="63.56"/><rect x="1716.90" y="809.12" width="6.1" height="56.28"/><rect x="1729.64" y="791.20" width="6.1" height="74.20"/><rect x="1742.39" y="791.43" width="6.1" height="73.97"/><rect x="1755.14" y="791.55" width="6.1" height="73.85"/><rect x="1767.89" y="791.43" width="6.1" height="73.97"/><rect x="1780.64" y="791.88" width="6.1" height="73.52"/><rect x="1793.38" y="791.88" width="6.1" height="73.52"/><rect x="1806.13" y="792.17" width="6.1" height="73.23"/><rect x="1818.88" y="791.88" width="6.1" height="73.52"/></g>
<g fill="#d88f3e"><rect x="97.90" y="697.64" width="6.1" height="53.96"/><rect x="110.65" y="696.65" width="6.1" height="53.96"/><rect x="123.40" y="700.37" width="6.1" height="43.79"/><rect x="136.14" y="695.53" width="6.1" height="48.75"/><rect x="148.89" y="690.82" width="6.1" height="53.34"/><rect x="161.64" y="695.16" width="6.1" height="48.75"/><rect x="174.39" y="694.54" width="6.1" height="49.12"/><rect x="187.14" y="698.76" width="6.1" height="44.65"/><rect x="199.88" y="696.40" width="6.1" height="47.38"/><rect x="212.63" y="695.90" width="6.1" height="54.20"/><rect x="225.38" y="692.68" width="6.1" height="48.99"/><rect x="238.13" y="713.76" width="6.1" height="34.98"/><rect x="250.88" y="725.42" width="6.1" height="18.36"/><rect x="263.62" y="718.73" width="6.1" height="34.23"/><rect x="276.37" y="713.02" width="6.1" height="37.34"/><rect x="289.12" y="722.69" width="6.1" height="24.56"/><rect x="301.87" y="724.43" width="6.1" height="29.02"/><rect x="314.62" y="722.45" width="6.1" height="31.51"/><rect x="327.36" y="732.25" width="6.1" height="21.71"/><rect x="340.11" y="725.67" width="6.1" height="28.16"/><rect x="352.86" y="733.61" width="6.1" height="20.59"/><rect x="365.61" y="724.68" width="6.1" height="22.57"/><rect x="378.36" y="725.92" width="6.1" height="21.95"/><rect x="391.10" y="729.89" width="6.1" height="18.48"/><rect x="403.85" y="721.45" width="6.1" height="26.79"/><rect x="416.60" y="714.38" width="6.1" height="33.49"/><rect x="429.35" y="720.46" width="6.1" height="28.53"/><rect x="442.10" y="709.67" width="6.1" height="38.95"/><rect x="454.84" y="713.14" width="6.1" height="35.35"/><rect x="467.59" y="725.80" width="6.1" height="22.57"/><rect x="480.34" y="735.72" width="6.1" height="12.40"/><rect x="493.09" y="726.79" width="6.1" height="23.19"/><rect x="505.84" y="729.89" width="6.1" height="20.09"/><rect x="518.58" y="732.99" width="6.1" height="16.87"/><rect x="531.33" y="725.18" width="6.1" height="25.68"/><rect x="544.08" y="721.21" width="6.1" height="21.83"/><rect x="556.83" y="719.35" width="6.1" height="22.33"/><rect x="569.58" y="726.79" width="6.1" height="19.23"/><rect x="582.32" y="724.31" width="6.1" height="21.95"/><rect x="595.07" y="727.66" width="6.1" height="18.11"/><rect x="607.82" y="727.66" width="6.1" height="18.36"/><rect x="620.57" y="732.99" width="6.1" height="17.37"/><rect x="633.32" y="717.11" width="6.1" height="32.37"/><rect x="646.06" y="701.98" width="6.1" height="46.39"/><rect x="658.81" y="711.28" width="6.1" height="36.96"/><rect x="671.56" y="720.21" width="6.1" height="28.03"/><rect x="684.31" y="747.75" width="6.1" height="1.98"/><rect x="697.06" y="750.60" width="6.1" height="0.99"/><rect x="709.80" y="758.42" width="6.1" height="2.73"/><rect x="722.55" y="759.91" width="6.1" height="7.69"/><rect x="735.30" y="740.68" width="6.1" height="28.78"/><rect x="748.05" y="734.48" width="6.1" height="18.36"/><rect x="760.80" y="713.39" width="6.1" height="56.44"/><rect x="773.54" y="720.21" width="6.1" height="50.86"/><rect x="786.29" y="726.79" width="6.1" height="44.41"/><rect x="799.04" y="722.94" width="6.1" height="53.09"/><rect x="811.79" y="725.42" width="6.1" height="50.11"/><rect x="824.54" y="731.38" width="6.1" height="44.03"/><rect x="837.28" y="736.16" width="6.1" height="39.32"/><rect x="850.03" y="736.04" width="6.1" height="39.07"/><rect x="862.78" y="736.41" width="6.1" height="38.82"/><rect x="875.53" y="736.79" width="6.1" height="39.07"/><rect x="888.28" y="737.41" width="6.1" height="37.09"/><rect x="901.02" y="747.33" width="6.1" height="29.40"/><rect x="913.77" y="751.55" width="6.1" height="26.05"/><rect x="926.52" y="750.06" width="6.1" height="29.40"/><rect x="939.27" y="756.26" width="6.1" height="23.57"/><rect x="952.02" y="760.23" width="6.1" height="22.70"/><rect x="964.76" y="756.88" width="6.1" height="25.43"/><rect x="977.51" y="750.68" width="6.1" height="31.75"/><rect x="990.26" y="751.05" width="6.1" height="31.38"/><rect x="1003.01" y="758.12" width="6.1" height="24.06"/><rect x="1015.76" y="756.01" width="6.1" height="26.05"/><rect x="1028.50" y="764.32" width="6.1" height="17.74"/><rect x="1041.25" y="765.81" width="6.1" height="16.74"/><rect x="1054.00" y="771.76" width="6.1" height="10.92"/><rect x="1066.75" y="767.42" width="6.1" height="14.76"/><rect x="1079.50" y="766.80" width="6.1" height="18.36"/><rect x="1092.24" y="761.84" width="6.1" height="24.19"/><rect x="1104.99" y="763.08" width="6.1" height="19.60"/><rect x="1117.74" y="764.57" width="6.1" height="20.59"/><rect x="1130.49" y="763.95" width="6.1" height="19.60"/><rect x="1143.24" y="760.60" width="6.1" height="25.06"/><rect x="1155.98" y="758.49" width="6.1" height="25.68"/><rect x="1168.73" y="761.59" width="6.1" height="24.44"/><rect x="1181.48" y="761.22" width="6.1" height="22.57"/><rect x="1194.23" y="761.22" width="6.1" height="26.67"/><rect x="1206.98" y="763.95" width="6.1" height="22.08"/><rect x="1219.72" y="766.55" width="6.1" height="19.47"/><rect x="1232.47" y="765.31" width="6.1" height="20.09"/><rect x="1245.22" y="768.29" width="6.1" height="22.08"/><rect x="1257.97" y="772.01" width="6.1" height="18.11"/><rect x="1270.72" y="771.39" width="6.1" height="16.74"/><rect x="1283.46" y="768.29" width="6.1" height="17.12"/><rect x="1296.21" y="755.39" width="6.1" height="29.40"/><rect x="1308.96" y="743.24" width="6.1" height="40.93"/><rect x="1321.71" y="748.57" width="6.1" height="35.23"/><rect x="1334.46" y="752.54" width="6.1" height="31.26"/><rect x="1347.20" y="747.33" width="6.1" height="36.59"/><rect x="1359.95" y="773.25" width="6.1" height="11.29"/><rect x="1372.70" y="758.99" width="6.1" height="25.55"/><rect x="1385.45" y="763.33" width="6.1" height="21.09"/><rect x="1398.20" y="743.86" width="6.1" height="44.41"/><rect x="1410.94" y="760.85" width="6.1" height="35.35"/><rect x="1423.69" y="762.46" width="6.1" height="31.01"/><rect x="1436.44" y="759.61" width="6.1" height="29.15"/><rect x="1449.19" y="753.16" width="6.1" height="38.82"/><rect x="1461.94" y="754.15" width="6.1" height="37.71"/><rect x="1474.68" y="744.85" width="6.1" height="46.89"/><rect x="1487.43" y="754.03" width="6.1" height="37.71"/><rect x="1500.18" y="748.57" width="6.1" height="43.16"/><rect x="1512.93" y="751.55" width="6.1" height="40.06"/><rect x="1525.68" y="759.11" width="6.1" height="38.33"/><rect x="1538.42" y="757.87" width="6.1" height="40.19"/><rect x="1551.17" y="757.87" width="6.1" height="38.76"/><rect x="1563.92" y="790.63" width="6.1" height="7.17"/><rect x="1576.67" y="798.47" width="6.1" height="0.59"/><rect x="1627.66" y="796.98" width="6.1" height="3.70"/><rect x="1640.41" y="788.54" width="6.1" height="12.14"/><rect x="1653.16" y="792.13" width="6.1" height="8.32"/><rect x="1665.90" y="787.74" width="6.1" height="12.60"/><rect x="1678.65" y="794.09" width="6.1" height="6.36"/><rect x="1704.15" y="799.06" width="6.1" height="2.77"/><rect x="1729.64" y="790.47" width="6.1" height="0.74"/><rect x="1755.14" y="790.67" width="6.1" height="0.88"/><rect x="1767.89" y="790.55" width="6.1" height="0.88"/><rect x="1793.38" y="791.14" width="6.1" height="0.74"/></g>
<g font-size="9" fill="#222" word-spacing="0.75">
<text transform="translate(100.3,872.5) rotate(-90)" text-anchor="end">2017 - 53</text>
<text transform="translate(113.0,872.5) rotate(-90)" text-anchor="end">2018 - 01</text>
<text transform="translate(125.8,872.5) rotate(-90)" text-anchor="end">2018 - 02</text>
<text transform="translate(138.5,872.5) rotate(-90)" text-anchor="end">2018 - 03</text>
<text transform="translate(151.3,872.5) rotate(-90)" text-anchor="end">2018 - 04</text>
<text transform="translate(164.0,872.5) rotate(-90)" text-anchor="end">2018 - 05</text>
<text transform="translate(176.8,872.5) rotate(-90)" text-anchor="end">2018 - 06</text>
<text transform="translate(189.5,872.5) rotate(-90)" text-anchor="end">2018 - 07</text>
<text transform="translate(202.3,872.5) rotate(-90)" text-anchor="end">2018 - 08</text>
<text transform="translate(215.0,872.5) rotate(-90)" text-anchor="end">2018 - 09</text>
<text transform="translate(227.8,872.5) rotate(-90)" text-anchor="end">2018 - 10</text>
<text transform="translate(240.5,872.5) rotate(-90)" text-anchor="end">2018 - 11</text>
<text transform="translate(253.3,872.5) rotate(-90)" text-anchor="end">2018 - 12</text>
<text transform="translate(266.0,872.5) rotate(-90)" text-anchor="end">2018 - 13</text>
<text transform="translate(278.8,872.5) rotate(-90)" text-anchor="end">2018 - 14</text>
<text transform="translate(291.5,872.5) rotate(-90)" text-anchor="end">2018 - 15</text>
<text transform="translate(304.3,872.5) rotate(-90)" text-anchor="end">2018 - 16</text>
<text transform="translate(317.0,872.5) rotate(-90)" text-anchor="end">2018 - 17</text>
<text transform="translate(329.8,872.5) rotate(-90)" text-anchor="end">2018 - 18</text>
<text transform="translate(342.5,872.5) rotate(-90)" text-anchor="end">2018 - 19</text>
<text transform="translate(355.3,872.5) rotate(-90)" text-anchor="end">2018 - 20</text>
<text transform="translate(368.0,872.5) rotate(-90)" text-anchor="end">2018 - 21</text>
<text transform="translate(380.8,872.5) rotate(-90)" text-anchor="end">2018 - 22</text>
<text transform="translate(393.5,872.5) rotate(-90)" text-anchor="end">2018 - 23</text>
<text transform="translate(406.3,872.5) rotate(-90)" text-anchor="end">2018 - 24</text>
<text transform="translate(419.0,872.5) rotate(-90)" text-anchor="end">2018 - 25</text>
<text transform="translate(431.7,872.5) rotate(-90)" text-anchor="end">2018 - 26</text>
<text transform="translate(444.5,872.5) rotate(-90)" text-anchor="end">2018 - 27</text>
<text transform="translate(457.2,872.5) rotate(-90)" text-anchor="end">2018 - 28</text>
<text transform="translate(470.0,872.5) rotate(-90)" text-anchor="end">2018 - 29</text>
<text transform="translate(482.7,872.5) rotate(-90)" text-anchor="end">2018 - 30</text>
<text transform="translate(495.5,872.5) rotate(-90)" text-anchor="end">2018 - 31</text>
<text transform="translate(508.2,872.5) rotate(-90)" text-anchor="end">2018 - 32</text>
<text transform="translate(521.0,872.5) rotate(-90)" text-anchor="end">2018 - 33</text>
<text transform="translate(533.7,872.5) rotate(-90)" text-anchor="end">2018 - 34</text>
<text transform="translate(546.5,872.5) rotate(-90)" text-anchor="end">2018 - 35</text>
<text transform="translate(559.2,872.5) rotate(-90)" text-anchor="end">2018 - 36</text>
<text transform="translate(572.0,872.5) rotate(-90)" text-anchor="end">2018 - 37</text>
<text transform="translate(584.7,872.5) rotate(-90)" text-anchor="end">2018 - 38</text>
<text transform="translate(597.5,872.5) rotate(-90)" text-anchor="end">2018 - 39</text>
<text transform="translate(610.2,872.5) rotate(-90)" text-anchor="end">2018 - 40</text>
<text transform="translate(623.0,872.5) rotate(-90)" text-anchor="end">2018 - 41</text>
<text transform="translate(635.7,872.5) rotate(-90)" text-anchor="end">2018 - 42</text>
<text transform="translate(648.5,872.5) rotate(-90)" text-anchor="end">2018 - 43</text>
<text transform="translate(661.2,872.5) rotate(-90)" text-anchor="end">2018 - 44</text>
<text transform="translate(674.0,872.5) rotate(-90)" text-anchor="end">2018 - 45</text>
<text transform="translate(686.7,872.5) rotate(-90)" text-anchor="end">2018 - 46</text>
<text transform="translate(699.5,872.5) rotate(-90)" text-anchor="end">2018 - 47</text>
<text transform="translate(712.2,872.5) rotate(-90)" text-anchor="end">2018 - 48</text>
<text transform="translate(725.0,872.5) rotate(-90)" text-anchor="end">2018 - 49</text>
<text transform="translate(737.7,872.5) rotate(-90)" text-anchor="end">2018 - 50</text>
<text transform="translate(750.4,872.5) rotate(-90)" text-anchor="end">2018 - 51</text>
<text transform="translate(763.2,872.5) rotate(-90)" text-anchor="end">2018 - 52</text>
<text transform="translate(775.9,872.5) rotate(-90)" text-anchor="end">2019 - 01</text>
<text transform="translate(788.7,872.5) rotate(-90)" text-anchor="end">2019 - 02</text>
<text transform="translate(801.4,872.5) rotate(-90)" text-anchor="end">2019 - 03</text>
<text transform="translate(814.2,872.5) rotate(-90)" text-anchor="end">2019 - 04</text>
<text transform="translate(826.9,872.5) rotate(-90)" text-anchor="end">2019 - 05</text>
<text transform="translate(839.7,872.5) rotate(-90)" text-anchor="end">2019 - 06</text>
<text transform="translate(852.4,872.5) rotate(-90)" text-anchor="end">2019 - 07</text>
<text transform="translate(865.2,872.5) rotate(-90)" text-anchor="end">2019 - 08</text>
<text transform="translate(877.9,872.5) rotate(-90)" text-anchor="end">2019 - 09</text>
<text transform="translate(890.7,872.5) rotate(-90)" text-anchor="end">2019 - 10</text>
<text transform="translate(903.4,872.5) rotate(-90)" text-anchor="end">2019 - 11</text>
<text transform="translate(916.2,872.5) rotate(-90)" text-anchor="end">2019 - 12</text>
<text transform="translate(928.9,872.5) rotate(-90)" text-anchor="end">2019 - 13</text>
<text transform="translate(941.7,872.5) rotate(-90)" text-anchor="end">2019 - 14</text>
<text transform="translate(954.4,872.5) rotate(-90)" text-anchor="end">2019 - 15</text>
<text transform="translate(967.2,872.5) rotate(-90)" text-anchor="end">2019 - 16</text>
<text transform="translate(979.9,872.5) rotate(-90)" text-anchor="end">2019 - 17</text>
<text transform="translate(992.7,872.5) rotate(-90)" text-anchor="end">2019 - 18</text>
<text transform="translate(1005.4,872.5) rotate(-90)" text-anchor="end">2019 - 19</text>
<text transform="translate(1018.2,872.5) rotate(-90)" text-anchor="end">2019 - 20</text>
<text transform="translate(1030.9,872.5) rotate(-90)" text-anchor="end">2019 - 21</text>
<text transform="translate(1043.7,872.5) rotate(-90)" text-anchor="end">2019 - 22</text>
<text transform="translate(1056.4,872.5) rotate(-90)" text-anchor="end">2019 - 23</text>
<text transform="translate(1069.1,872.5) rotate(-90)" text-anchor="end">2019 - 24</text>
<text transform="translate(1081.9,872.5) rotate(-90)" text-anchor="end">2019 - 25</text>
<text transform="translate(1094.6,872.5) rotate(-90)" text-anchor="end">2019 - 26</text>
<text transform="translate(1107.4,872.5) rotate(-90)" text-anchor="end">2019 - 27</text>
<text transform="translate(1120.1,872.5) rotate(-90)" text-anchor="end">2019 - 28</text>
<text transform="translate(1132.9,872.5) rotate(-90)" text-anchor="end">2019 - 29</text>
<text transform="translate(1145.6,872.5) rotate(-90)" text-anchor="end">2019 - 30</text>
<text transform="translate(1158.4,872.5) rotate(-90)" text-anchor="end">2019 - 31</text>
<text transform="translate(1171.1,872.5) rotate(-90)" text-anchor="end">2019 - 32</text>
<text transform="translate(1183.9,872.5) rotate(-90)" text-anchor="end">2019 - 33</text>
<text transform="translate(1196.6,872.5) rotate(-90)" text-anchor="end">2019 - 34</text>
<text transform="translate(1209.4,872.5) rotate(-90)" text-anchor="end">2019 - 35</text>
<text transform="translate(1222.1,872.5) rotate(-90)" text-anchor="end">2019 - 36</text>
<text transform="translate(1234.9,872.5) rotate(-90)" text-anchor="end">2019 - 37</text>
<text transform="translate(1247.6,872.5) rotate(-90)" text-anchor="end">2019 - 38</text>
<text transform="translate(1260.4,872.5) rotate(-90)" text-anchor="end">2019 - 39</text>
<text transform="translate(1273.1,872.5) rotate(-90)" text-anchor="end">2019 - 40</text>
<text transform="translate(1285.9,872.5) rotate(-90)" text-anchor="end">2019 - 41</text>
<text transform="translate(1298.6,872.5) rotate(-90)" text-anchor="end">2019 - 42</text>
<text transform="translate(1311.4,872.5) rotate(-90)" text-anchor="end">2019 - 43</text>
<text transform="translate(1324.1,872.5) rotate(-90)" text-anchor="end">2019 - 44</text>
<text transform="translate(1336.9,872.5) rotate(-90)" text-anchor="end">2019 - 45</text>
<text transform="translate(1349.6,872.5) rotate(-90)" text-anchor="end">2019 - 46</text>
<text transform="translate(1362.4,872.5) rotate(-90)" text-anchor="end">2019 - 47</text>
<text transform="translate(1375.1,872.5) rotate(-90)" text-anchor="end">2019 - 48</text>
<text transform="translate(1387.8,872.5) rotate(-90)" text-anchor="end">2019 - 49</text>
<text transform="translate(1400.6,872.5) rotate(-90)" text-anchor="end">2019 - 50</text>
<text transform="translate(1413.3,872.5) rotate(-90)" text-anchor="end">2019 - 51</text>
<text transform="translate(1426.1,872.5) rotate(-90)" text-anchor="end">2019 - 52</text>
<text transform="translate(1438.8,872.5) rotate(-90)" text-anchor="end">2020 - 01</text>
<text transform="translate(1451.6,872.5) rotate(-90)" text-anchor="end">2020 - 02</text>
<text transform="translate(1464.3,872.5) rotate(-90)" text-anchor="end">2020 - 03</text>
<text transform="translate(1477.1,872.5) rotate(-90)" text-anchor="end">2020 - 04</text>
<text transform="translate(1489.8,872.5) rotate(-90)" text-anchor="end">2020 - 05</text>
<text transform="translate(1502.6,872.5) rotate(-90)" text-anchor="end">2020 - 06</text>
<text transform="translate(1515.3,872.5) rotate(-90)" text-anchor="end">2020 - 07</text>
<text transform="translate(1528.1,872.5) rotate(-90)" text-anchor="end">2020 - 08</text>
<text transform="translate(1540.8,872.5) rotate(-90)" text-anchor="end">2020 - 09</text>
<text transform="translate(1553.6,872.5) rotate(-90)" text-anchor="end">2020 - 10</text>
<text transform="translate(1566.3,872.5) rotate(-90)" text-anchor="end">2020 - 11</text>
<text transform="translate(1579.1,872.5) rotate(-90)" text-anchor="end">2020 - 12</text>
<text transform="translate(1591.8,872.5) rotate(-90)" text-anchor="end">2020 - 13</text>
<text transform="translate(1604.6,872.5) rotate(-90)" text-anchor="end">2020 - 14</text>
<text transform="translate(1617.3,872.5) rotate(-90)" text-anchor="end">2020 - 15</text>
<text transform="translate(1630.1,872.5) rotate(-90)" text-anchor="end">2020 - 16</text>
<text transform="translate(1642.8,872.5) rotate(-90)" text-anchor="end">2020 - 17</text>
<text transform="translate(1655.6,872.5) rotate(-90)" text-anchor="end">2020 - 18</text>
<text transform="translate(1668.3,872.5) rotate(-90)" text-anchor="end">2020 - 19</text>
<text transform="translate(1681.1,872.5) rotate(-90)" text-anchor="end">2020 - 20</text>
<text transform="translate(1693.8,872.5) rotate(-90)" text-anchor="end">2020 - 21</text>
<text transform="translate(1706.5,872.5) rotate(-90)" text-anchor="end">2020 - 22</text>
<text transform="translate(1719.3,872.5) rotate(-90)" text-anchor="end">2020 - 23</text>
<text transform="translate(1732.0,872.5) rotate(-90)" text-anchor="end">2020 - 24</text>
<text transform="translate(1744.8,872.5) rotate(-90)" text-anchor="end">2020 - 25</text>
<text transform="translate(1757.5,872.5) rotate(-90)" text-anchor="end">2020 - 26</text>
<text transform="translate(1770.3,872.5) rotate(-90)" text-anchor="end">2020 - 27</text>
<text transform="translate(1783.0,872.5) rotate(-90)" text-anchor="end">2020 - 28</text>
<text transform="translate(1795.8,872.5) rotate(-90)" text-anchor="end">2020 - 29</text>
<text transform="translate(1808.5,872.5) rotate(-90)" text-anchor="end">2020 - 30</text>
<text transform="translate(1821.3,872.5) rotate(-90)" text-anchor="end">2020 - 31</text>
</g>
</g>
</svg>
</body>
</html>
